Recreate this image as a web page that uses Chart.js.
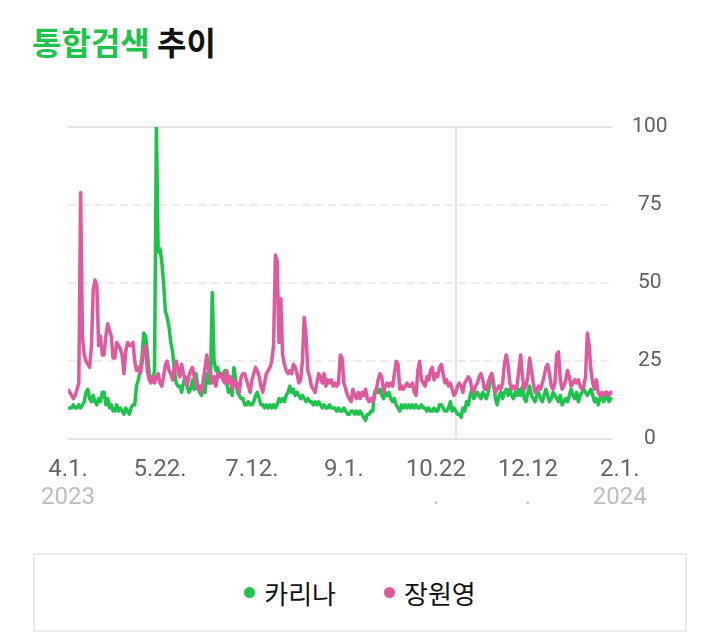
<!DOCTYPE html>
<html>
<head>
<meta charset="utf-8">
<script src="https://cdn.jsdelivr.net/npm/chart.js@4.4.1/dist/chart.umd.min.js"></script>
<style>
  html,body{margin:0;padding:0;background:#fff;}
  body{width:720px;height:635px;position:relative;overflow:hidden;}
  #title{position:absolute;left:32px;top:25px;font-family:"Noto Sans CJK KR";font-weight:700;font-size:32px;line-height:32px;color:#111;white-space:nowrap;}
  #title .g{color:#1ec34b;}
  #wrap{position:absolute;left:0;top:80px;width:720px;height:450px;}
  #legend{position:absolute;left:33px;top:553px;width:650px;height:75px;border:2px solid #ebebeb;display:flex;justify-content:center;align-items:center;font-family:"Noto Sans CJK KR";font-size:26px;color:#111;}
  .item{display:flex;align-items:center;margin:0 24px;}
  .dot{width:11px;height:11px;border-radius:50%;margin-right:9px;}
</style>
</head>
<body>
<div id="title"><span class="g">통합검색</span> 추이</div>
<div id="wrap"><canvas id="c"></canvas></div>
<div id="legend"></div>
<script>
// ---- data (daily, from 2023-04-01) ----
const seriesNames = ['카리나', '장원영'];
const seriesColors = ['#1ec34b', '#e0599f'];

const karina = [
  10,10,10,11,10,10,11,10,11,12,
  15,16,13,12,14,12,11,13,12,15,
  15,11,13,10,11,9,9,11,9,
  10,9,8,10,9,8,10,11,11,17,
  19,22,26,34,33,28,21,19,19,22,
  100,60,61,57,50,41,39,36,31,28,
  22,18,17,17,15,18,20,17,15,16,
  19,16,21,17,15,14,17,15,21,18,
  18,47,25,22,23,20,21,19,22,18,
  15,16,14,23,19,15,14,13,13,
  11,11,12,11,11,12,14,15,13,11,
  11,10,11,10,11,10,11,10,11,13,
  12,13,12,14,15,17,15,16,14,15,
  14,13,14,13,12,13,12,12,11,12,
  11,12,11,10,11,10,10,11,10,10,
  10,9,10,9,9,10,9,8,8,9,
  9,8,9,8,9,8,7,6,8,
  8,9,9,15,16,15,16,14,13,15,
  14,15,13,12,13,11,10,9,11,10,
  11,10,11,10,11,10,11,10,10,11,
  10,10,9,10,9,9,10,9,9,11,
  11,10,9,9,10,12,9,10,9,8,
  8,7,10,9,12,11,14,16,13,14,
  15,14,13,15,14,13,15,18,21,
  18,13,11,14,15,13,15,16,14,16,
  14,13,15,14,16,14,17,13,12,15,
  17,14,13,12,14,15,13,12,14,16,
  14,12,13,15,14,13,12,14,11,12,
  13,12,14,16,14,13,15,12,14,15,
  16,15,14,15,16,14,12,13,11,13,
  14,12,13,14,12,13,13
];

const wonyoung = [
  16,15,14,13,14,16,18,79,33,27,
  25,24,23,30,48,51,49,30,33,27,
  27,33,37,35,33,26,26,31,30,
  29,27,21,28,31,30,30,31,25,22,
  23,21,24,29,30,22,19,18,20,18,
  20,21,18,17,20,24,25,22,21,19,
  23,25,22,20,24,21,19,17,20,22,
  23,20,18,16,17,15,19,23,27,22,
  21,18,20,17,21,20,21,19,18,22,
  18,20,16,19,17,18,15,20,21,
  21,19,17,15,19,21,23,22,20,17,
  15,18,21,22,23,25,30,59,57,31,
  45,27,24,22,21,22,21,24,23,21,
  18,19,25,39,33,22,20,17,16,15,
  18,21,20,18,21,17,19,18,19,17,
  18,17,18,27,26,18,16,14,13,12,
  16,14,13,15,13,15,14,16,13,
  12,13,12,14,16,19,21,20,15,17,
  18,17,18,17,21,25,24,16,17,16,
  17,18,17,17,18,15,14,22,25,19,
  18,17,20,19,22,23,19,21,20,23,
  24,21,18,19,17,18,16,14,15,17,
  18,17,15,18,19,20,19,16,15,17,
  18,20,21,19,16,16,18,20,21,
  17,15,16,17,16,18,24,27,24,18,
  16,17,16,17,22,27,20,16,17,20,
  26,22,18,15,16,17,16,18,20,23,
  24,21,17,16,18,27,28,19,16,17,
  19,22,20,17,18,19,18,19,17,16,
  17,20,34,30,22,18,16,19,15,14,
  15,14,15,15,14,15,15
];

// x tick positions (days since 2023-04-01) and their labels
const tickDays   = [0, 51, 102, 153, 204, 255, 306];
const tickLabels = ['4.1.', '5.22.', '7.12.', '9.1.', '10.22', '12.12', '2.1.'];
const tickYears  = ['2023', '', '', '', '.', '.', '2024'];
const yTicks     = [0, 25, 50, 75, 100];
const markerDay  = 215;

// ---- categories: day index of every point ----
const days = karina.map((_, i) => i);

// ---- legend (HTML) ----
const lg = document.getElementById('legend');
seriesNames.forEach((n, i) => {
  const it = document.createElement('div'); it.className = 'item';
  const d = document.createElement('span'); d.className = 'dot'; d.style.background = seriesColors[i];
  const t = document.createElement('span'); t.textContent = n;
  it.appendChild(d); it.appendChild(t); lg.appendChild(it);
});

const gridPlugin = {
  id: 'customGrid',
  beforeDatasetsDraw(chart) {
    const { ctx, chartArea: a, scales: { x, y } } = chart;
    ctx.save();
    yTicks.forEach(v => {
      const py = Math.round(y.getPixelForValue(v));
      const solid = (v === yTicks[0] || v === yTicks[yTicks.length - 1]);
      ctx.beginPath();
      ctx.setLineDash(solid ? [] : [8, 5]);
      ctx.strokeStyle = solid ? '#e3e3e3' : '#ececec';
      ctx.lineWidth = 2;
      ctx.moveTo(a.left, py); ctx.lineTo(a.right, py);
      ctx.stroke();
    });
    const px = Math.round(x.getPixelForValue(markerDay));
    ctx.setLineDash([]);
    ctx.strokeStyle = '#e3e3e3';
    ctx.lineWidth = 2;
    ctx.beginPath(); ctx.moveTo(px, a.top); ctx.lineTo(px, a.bottom); ctx.stroke();
    ctx.restore();
  }
};

const setTicks = axis => { axis.ticks = tickDays.map(v => ({ value: v })); };

Chart.defaults.font.family = 'Roboto';

new Chart(document.getElementById('c'), {
  type: 'line',
  data: {
    labels: days,
    datasets: [
      { label: seriesNames[0], data: karina, borderColor: seriesColors[0], backgroundColor: seriesColors[0],
        borderWidth: 3.5, pointRadius: 0, tension: 0, borderJoinStyle: 'round', order: 1 },
      { label: seriesNames[1], data: wonyoung, borderColor: seriesColors[1], backgroundColor: seriesColors[1],
        borderWidth: 3.5, pointRadius: 0, tension: 0, borderJoinStyle: 'round', order: 0 }
    ]
  },
  options: {
    responsive: true,
    maintainAspectRatio: false,
    animation: false,
    layout: { padding: { left: 68, right: 33, top: 47, bottom: 26 } },
    plugins: { legend: { display: false }, tooltip: { enabled: false } },
    scales: {
      x: {
        type: 'linear', min: 0, max: days.length - 1, weight: 0,
        grid: { display: false, drawTicks: false }, border: { display: false },
        afterBuildTicks: setTicks,
        ticks: { autoSkip: false, maxRotation: 0, padding: 16, color: '#666', font: { size: 24 },
          callback: (v, i) => tickLabels[i] }
      },
      x2: {
        type: 'linear', position: 'bottom', min: 0, max: days.length - 1, weight: 1,
        grid: { display: false, drawTicks: false }, border: { display: false },
        afterBuildTicks: setTicks,
        ticks: { autoSkip: false, maxRotation: 0, mirror: true, crossAlign: 'center', padding: 2,
          color: '#bdbdbd', font: { size: 24 },
          callback: (v, i) => tickYears[i] }
      },
      y: {
        position: 'right', min: 0, max: 100,
        grid: { display: false, drawTicks: false }, border: { display: false },
        afterBuildTicks: axis => { axis.ticks = yTicks.map(v => ({ value: v })); },
        ticks: { color: '#5f5f5f', font: { size: 21 }, crossAlign: 'center', padding: 19.5 }
      }
    }
  },
  plugins: [gridPlugin]
});
</script>
</body>
</html>
